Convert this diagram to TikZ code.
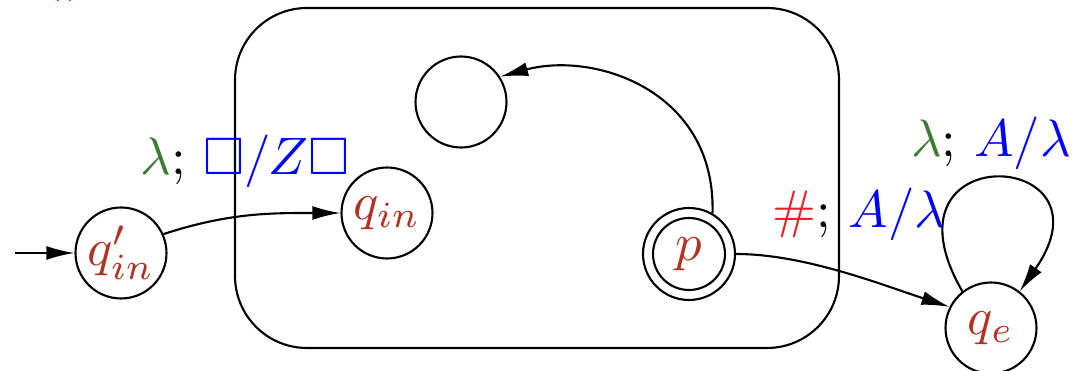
\documentclass[tikz,border=0pt]{standalone}
\usepackage{amssymb}
\usetikzlibrary{arrows.meta}
\definecolor{nodered}{RGB}{178,50,34}
\definecolor{lgreen}{RGB}{58,125,48}
\definecolor{lblue}{RGB}{0,0,255}
\definecolor{hashred}{RGB}{235,30,40}
\newcommand\BigT[1]{\scalebox{3.0}{#1}}
\begin{document}
\begin{tikzpicture}[x=0.02cm,y=0.02cm,
  state/.style={circle,draw,line width=1.2pt,minimum size=1.82cm,inner sep=0pt},
  edge/.style={line width=1.2pt,-{Latex[length=16pt,width=8pt]}},
  lbl/.style={inner sep=0pt,anchor=base}]
\useasboundingbox (0,0) rectangle (1075,371);
% container
\draw[line width=1.2pt, rounded corners=1.44cm] (235,23) rectangle (839,363);
% states
\node[state] (qi0) at (121,118) {\BigT{$\color{nodered}q'_{in}$}};
\node[state] (qin) at (387,158) {\BigT{$\color{nodered}q_{in}$}};
\node[state] (empty) at (461,269) {};
\node[state,minimum size=1.84cm] (p) at (689,117) {\BigT{$\color{nodered}p$}};
\draw[line width=1.2pt] (p.center) circle[radius=0.72cm];
\node[state] (qe) at (991,43) {\BigT{$\color{nodered}q_e$}};
% start
\coordinate (start) at (15,118);
\draw[edge] (start) -- (qi0);
% edges
\draw[edge] (qi0.24) to[out=18,in=180] (qin);
\draw[edge] (p.60) .. controls (716,280) and (595,320) .. (empty.33);
\draw[edge] (p) to[out=0,in=162,looseness=0.8] (qe.153);
\draw[edge] (qe.128) to[out=120,in=55,out distance=3.6cm,in distance=3.5cm] (qe.52);
% labels
\node[lbl] (l1) at (245,196) {\BigT{$\color{lgreen}\lambda$; $\color{lblue}\square/Z\square$}};
\node[lbl] (l2) at (859,143) {\BigT{{\color{hashred}\#}; $\color{lblue}A/\lambda$}};
\node[lbl] (l3) at (991,214) {\BigT{$\color{lgreen}\lambda$; $\color{lblue}A/\lambda$}};
\node[lbl] (l0) at (70,379) {\BigT{\color{hashred}\#}};
\end{tikzpicture}
\end{document}
